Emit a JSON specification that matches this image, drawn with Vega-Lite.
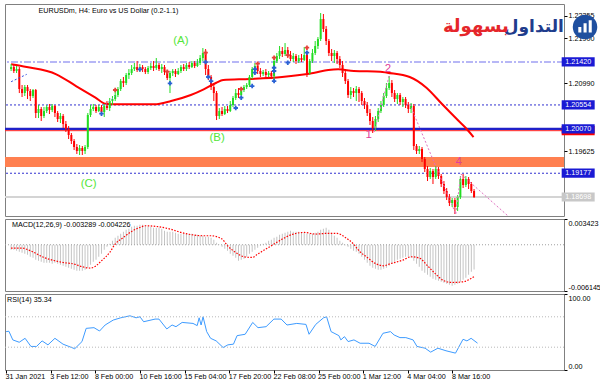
{
"$schema":"https://vega.github.io/schema/vega-lite/v6.json",
"padding":{"left":3,"top":3,"right":0,"bottom":0},
"background":"#ffffff",
"spacing":3,
"bounds":"flush",
"config":{
 "view":{"stroke":"#808080","strokeWidth":1},
 "axis":{"labelFont":"Liberation Sans","labelFontSize":7.2,"labelColor":"#000000","tickColor":"#000000","tickSize":3,"domain":false,"grid":false,"labelOverlap":false,"labelPadding":1},
 "text":{"font":"Liberation Sans"}
},
"datasets":{
"bars":[
{"i":0,"o":1.21278,"h":1.21379,"l":1.21238,"c":1.21318,"m":-0.000665},
{"i":1,"o":1.21318,"h":1.21359,"l":1.21198,"c":1.21238,"m":-0.000665},
{"i":2,"o":1.21238,"h":1.21339,"l":1.21198,"c":1.21278,"m":-0.000798},
{"i":3,"o":1.21278,"h":1.21318,"l":1.20794,"c":1.20875,"m":-0.000931},
{"i":4,"o":1.20875,"h":1.20956,"l":1.20714,"c":1.20794,"m":-0.001064},
{"i":5,"o":1.20794,"h":1.20956,"l":1.20734,"c":1.20915,"m":-0.001197},
{"i":6,"o":1.20915,"h":1.20956,"l":1.20673,"c":1.20835,"m":-0.00133},
{"i":7,"o":1.20835,"h":1.20875,"l":1.20633,"c":1.20734,"m":-0.001596},
{"i":8,"o":1.20734,"h":1.20875,"l":1.20694,"c":1.20855,"m":-0.001729},
{"i":9,"o":1.20855,"h":1.20875,"l":1.2029,"c":1.20391,"m":-0.001995},
{"i":10,"o":1.20391,"h":1.20552,"l":1.2029,"c":1.20472,"m":-0.002128},
{"i":11,"o":1.20472,"h":1.20512,"l":1.2023,"c":1.20331,"m":-0.002261},
{"i":12,"o":1.20331,"h":1.20512,"l":1.2029,"c":1.20431,"m":-0.002394},
{"i":13,"o":1.20431,"h":1.20552,"l":1.20391,"c":1.20512,"m":-0.002394},
{"i":14,"o":1.20512,"h":1.20573,"l":1.20371,"c":1.20452,"m":-0.002394},
{"i":15,"o":1.20452,"h":1.20573,"l":1.20411,"c":1.20532,"m":-0.002527},
{"i":16,"o":1.20532,"h":1.20552,"l":1.2031,"c":1.20391,"m":-0.002394},
{"i":17,"o":1.20391,"h":1.20431,"l":1.2021,"c":1.2027,"m":-0.002527},
{"i":18,"o":1.2027,"h":1.20391,"l":1.20189,"c":1.20331,"m":-0.00266},
{"i":19,"o":1.20331,"h":1.20371,"l":1.20089,"c":1.20169,"m":-0.002793},
{"i":20,"o":1.20169,"h":1.2023,"l":1.20008,"c":1.20068,"m":-0.002926},
{"i":21,"o":1.20068,"h":1.20129,"l":1.19867,"c":1.19948,"m":-0.003059},
{"i":22,"o":1.19948,"h":1.19988,"l":1.19766,"c":1.19827,"m":-0.003192},
{"i":23,"o":1.19827,"h":1.19867,"l":1.19645,"c":1.19706,"m":-0.003325},
{"i":24,"o":1.19706,"h":1.19766,"l":1.19565,"c":1.19625,"m":-0.003458},
{"i":25,"o":1.19625,"h":1.19746,"l":1.19545,"c":1.19686,"m":-0.003458},
{"i":26,"o":1.19686,"h":1.19726,"l":1.19545,"c":1.19625,"m":-0.003458},
{"i":27,"o":1.19625,"h":1.19746,"l":1.19565,"c":1.19706,"m":-0.003325},
{"i":28,"o":1.19706,"h":1.20391,"l":1.19665,"c":1.20351,"m":-0.003059},
{"i":29,"o":1.20351,"h":1.20552,"l":1.2031,"c":1.20472,"m":-0.00266},
{"i":30,"o":1.20472,"h":1.20573,"l":1.20431,"c":1.20512,"m":-0.002261},
{"i":31,"o":1.20512,"h":1.20552,"l":1.20391,"c":1.20431,"m":-0.001995},
{"i":32,"o":1.20431,"h":1.20552,"l":1.20411,"c":1.20512,"m":-0.001596},
{"i":33,"o":1.20512,"h":1.20552,"l":1.20351,"c":1.20411,"m":-0.001197},
{"i":34,"o":1.20411,"h":1.20573,"l":1.2031,"c":1.20532,"m":-0.000665},
{"i":35,"o":1.20532,"h":1.20633,"l":1.20452,"c":1.20492,"m":-0.000266},
{"i":36,"o":1.20492,"h":1.20694,"l":1.20431,"c":1.20633,"m":0.000133},
{"i":37,"o":1.20633,"h":1.20734,"l":1.20552,"c":1.20673,"m":0.000532},
{"i":38,"o":1.20673,"h":1.20875,"l":1.20633,"c":1.20754,"m":0.000931},
{"i":39,"o":1.20754,"h":1.20915,"l":1.20714,"c":1.20875,"m":0.001197},
{"i":40,"o":1.20875,"h":1.21077,"l":1.20835,"c":1.21036,"m":0.001463},
{"i":41,"o":1.21036,"h":1.21117,"l":1.20915,"c":1.20996,"m":0.001729},
{"i":42,"o":1.20996,"h":1.21198,"l":1.20956,"c":1.21157,"m":0.001995},
{"i":43,"o":1.21157,"h":1.21278,"l":1.21077,"c":1.21198,"m":0.002128},
{"i":44,"o":1.21198,"h":1.21359,"l":1.21157,"c":1.21278,"m":0.002394},
{"i":45,"o":1.21278,"h":1.21399,"l":1.21238,"c":1.21318,"m":0.002527},
{"i":46,"o":1.21318,"h":1.21439,"l":1.21218,"c":1.21258,"m":0.002527},
{"i":47,"o":1.21258,"h":1.21379,"l":1.21218,"c":1.21318,"m":0.00266},
{"i":48,"o":1.21318,"h":1.21359,"l":1.21218,"c":1.21278,"m":0.00266},
{"i":49,"o":1.21278,"h":1.21318,"l":1.21177,"c":1.21218,"m":0.002527},
{"i":50,"o":1.21218,"h":1.21339,"l":1.21177,"c":1.21298,"m":0.002394},
{"i":51,"o":1.21298,"h":1.21399,"l":1.21258,"c":1.21339,"m":0.002394},
{"i":52,"o":1.21339,"h":1.21439,"l":1.21238,"c":1.21298,"m":0.002261},
{"i":53,"o":1.21298,"h":1.215,"l":1.21258,"c":1.21359,"m":0.002261},
{"i":54,"o":1.21359,"h":1.21399,"l":1.21238,"c":1.21278,"m":0.002261},
{"i":55,"o":1.21278,"h":1.21379,"l":1.21198,"c":1.21318,"m":0.002128},
{"i":56,"o":1.21318,"h":1.21359,"l":1.21157,"c":1.21218,"m":0.001862},
{"i":57,"o":1.21218,"h":1.21258,"l":1.21056,"c":1.21097,"m":0.001729},
{"i":58,"o":1.21097,"h":1.21238,"l":1.20794,"c":1.21198,"m":0.001729},
{"i":59,"o":1.21198,"h":1.21278,"l":1.21137,"c":1.21238,"m":0.001729},
{"i":60,"o":1.21238,"h":1.21278,"l":1.21117,"c":1.21177,"m":0.001596},
{"i":61,"o":1.21177,"h":1.21298,"l":1.21157,"c":1.21238,"m":0.001463},
{"i":62,"o":1.21238,"h":1.21359,"l":1.21198,"c":1.21318,"m":0.001463},
{"i":63,"o":1.21318,"h":1.21379,"l":1.21238,"c":1.21278,"m":0.001463},
{"i":64,"o":1.21278,"h":1.21399,"l":1.21238,"c":1.21359,"m":0.001463},
{"i":65,"o":1.21359,"h":1.21419,"l":1.21278,"c":1.21318,"m":0.001463},
{"i":66,"o":1.21318,"h":1.21439,"l":1.21298,"c":1.21399,"m":0.001463},
{"i":67,"o":1.21399,"h":1.21439,"l":1.21298,"c":1.21339,"m":0.00133},
{"i":68,"o":1.21339,"h":1.2148,"l":1.21318,"c":1.21399,"m":0.00133},
{"i":69,"o":1.21399,"h":1.2156,"l":1.21359,"c":1.215,"m":0.001197},
{"i":70,"o":1.215,"h":1.21701,"l":1.21439,"c":1.21601,"m":0.001197},
{"i":71,"o":1.21601,"h":1.21681,"l":1.21157,"c":1.21278,"m":0.001064},
{"i":72,"o":1.21278,"h":1.21359,"l":1.21056,"c":1.21117,"m":0.001064},
{"i":73,"o":1.21117,"h":1.21157,"l":1.20855,"c":1.20915,"m":0.000931},
{"i":74,"o":1.20915,"h":1.20996,"l":1.20633,"c":1.20794,"m":0.000665},
{"i":75,"o":1.20794,"h":1.20835,"l":1.2025,"c":1.20331,"m":0.000266},
{"i":76,"o":1.20331,"h":1.20492,"l":1.2027,"c":1.20431,"m":0.00005},
{"i":77,"o":1.20431,"h":1.20512,"l":1.20331,"c":1.20371,"m":-0.000266},
{"i":78,"o":1.20371,"h":1.20532,"l":1.20351,"c":1.20472,"m":-0.000532},
{"i":79,"o":1.20472,"h":1.20532,"l":1.20391,"c":1.20431,"m":-0.000798},
{"i":80,"o":1.20431,"h":1.20633,"l":1.20411,"c":1.20552,"m":-0.001197},
{"i":81,"o":1.20552,"h":1.20734,"l":1.20512,"c":1.20694,"m":-0.001463},
{"i":82,"o":1.20694,"h":1.20875,"l":1.20653,"c":1.20794,"m":-0.001729},
{"i":83,"o":1.20794,"h":1.20895,"l":1.20694,"c":1.20754,"m":-0.002128},
{"i":84,"o":1.20754,"h":1.20915,"l":1.20714,"c":1.20855,"m":-0.001995},
{"i":85,"o":1.20855,"h":1.20956,"l":1.20814,"c":1.20915,"m":-0.001862},
{"i":86,"o":1.20915,"h":1.20996,"l":1.20875,"c":1.20956,"m":-0.001596},
{"i":87,"o":1.20956,"h":1.21157,"l":1.20915,"c":1.21117,"m":-0.001197},
{"i":88,"o":1.21117,"h":1.21318,"l":1.21077,"c":1.21278,"m":-0.000931},
{"i":89,"o":1.21278,"h":1.21399,"l":1.21238,"c":1.21339,"m":-0.000665},
{"i":90,"o":1.21339,"h":1.21379,"l":1.21177,"c":1.21238,"m":-0.000399},
{"i":91,"o":1.21238,"h":1.21298,"l":1.21117,"c":1.21177,"m":-0.000133},
{"i":92,"o":1.21177,"h":1.21258,"l":1.21137,"c":1.21218,"m":0.000133},
{"i":93,"o":1.21218,"h":1.21278,"l":1.21097,"c":1.21157,"m":0.000266},
{"i":94,"o":1.21157,"h":1.21238,"l":1.21117,"c":1.21198,"m":0.000532},
{"i":95,"o":1.21198,"h":1.21238,"l":1.21077,"c":1.21137,"m":0.000665},
{"i":96,"o":1.21137,"h":1.2152,"l":1.21056,"c":1.21439,"m":0.000931},
{"i":97,"o":1.21439,"h":1.21601,"l":1.21399,"c":1.2154,"m":0.001064},
{"i":98,"o":1.2154,"h":1.21742,"l":1.2148,"c":1.21641,"m":0.00133},
{"i":99,"o":1.21641,"h":1.21722,"l":1.2152,"c":1.21581,"m":0.001463},
{"i":100,"o":1.21581,"h":1.21802,"l":1.2154,"c":1.21661,"m":0.001596},
{"i":101,"o":1.21661,"h":1.21722,"l":1.215,"c":1.2156,"m":0.001729},
{"i":102,"o":1.2156,"h":1.21641,"l":1.21439,"c":1.2148,"m":0.001862},
{"i":103,"o":1.2148,"h":1.21601,"l":1.21419,"c":1.2154,"m":0.001729},
{"i":104,"o":1.2154,"h":1.21581,"l":1.21379,"c":1.21439,"m":0.001729},
{"i":105,"o":1.21439,"h":1.2156,"l":1.21399,"c":1.215,"m":0.001729},
{"i":106,"o":1.215,"h":1.21581,"l":1.21419,"c":1.2146,"m":0.001596},
{"i":107,"o":1.2146,"h":1.21722,"l":1.21439,"c":1.2156,"m":0.001596},
{"i":108,"o":1.2156,"h":1.21641,"l":1.21117,"c":1.21198,"m":0.001463},
{"i":109,"o":1.21198,"h":1.2148,"l":1.21157,"c":1.21439,"m":0.001463},
{"i":110,"o":1.21439,"h":1.21681,"l":1.21399,"c":1.21601,"m":0.001463},
{"i":111,"o":1.21601,"h":1.21843,"l":1.2156,"c":1.21742,"m":0.001596},
{"i":112,"o":1.21742,"h":1.21923,"l":1.21681,"c":1.21883,"m":0.001729},
{"i":113,"o":1.21883,"h":1.22407,"l":1.21843,"c":1.22286,"m":0.001995},
{"i":114,"o":1.22286,"h":1.22387,"l":1.22024,"c":1.22085,"m":0.002128},
{"i":115,"o":1.22085,"h":1.22145,"l":1.21762,"c":1.21843,"m":0.002261},
{"i":116,"o":1.21843,"h":1.21883,"l":1.2154,"c":1.21601,"m":0.001995},
{"i":117,"o":1.21601,"h":1.21681,"l":1.21439,"c":1.2154,"m":0.001596},
{"i":118,"o":1.2154,"h":1.21661,"l":1.21399,"c":1.21601,"m":0.001197},
{"i":119,"o":1.21601,"h":1.21641,"l":1.21379,"c":1.2148,"m":0.000931},
{"i":120,"o":1.2148,"h":1.2154,"l":1.21298,"c":1.21359,"m":0.000532},
{"i":121,"o":1.21359,"h":1.21439,"l":1.21117,"c":1.21198,"m":0.000266},
{"i":122,"o":1.21198,"h":1.21238,"l":1.20976,"c":1.21036,"m":-0.00005},
{"i":123,"o":1.21036,"h":1.21077,"l":1.20694,"c":1.20754,"m":-0.000266},
{"i":124,"o":1.20754,"h":1.20915,"l":1.20673,"c":1.20835,"m":-0.000532},
{"i":125,"o":1.20835,"h":1.20895,"l":1.20714,"c":1.20794,"m":-0.000798},
{"i":126,"o":1.20794,"h":1.20935,"l":1.20633,"c":1.20875,"m":-0.000931},
{"i":127,"o":1.20875,"h":1.20915,"l":1.20613,"c":1.20794,"m":-0.001197},
{"i":128,"o":1.20794,"h":1.20835,"l":1.20552,"c":1.20633,"m":-0.001596},
{"i":129,"o":1.20633,"h":1.20694,"l":1.20472,"c":1.20552,"m":-0.001995},
{"i":130,"o":1.20552,"h":1.20613,"l":1.20331,"c":1.20391,"m":-0.002394},
{"i":131,"o":1.20391,"h":1.20472,"l":1.20149,"c":1.2023,"m":-0.002793},
{"i":132,"o":1.2023,"h":1.2031,"l":1.19988,"c":1.20089,"m":-0.003059},
{"i":133,"o":1.20089,"h":1.20331,"l":1.20028,"c":1.2027,"m":-0.003192},
{"i":134,"o":1.2027,"h":1.20492,"l":1.2021,"c":1.20431,"m":-0.003325},
{"i":135,"o":1.20431,"h":1.20633,"l":1.20391,"c":1.20552,"m":-0.003325},
{"i":136,"o":1.20552,"h":1.20794,"l":1.20512,"c":1.20734,"m":-0.003192},
{"i":137,"o":1.20734,"h":1.20996,"l":1.20694,"c":1.20895,"m":-0.003059},
{"i":138,"o":1.20895,"h":1.21137,"l":1.20855,"c":1.20996,"m":-0.002793},
{"i":139,"o":1.20996,"h":1.21056,"l":1.20714,"c":1.20794,"m":-0.002527},
{"i":140,"o":1.20794,"h":1.20855,"l":1.20613,"c":1.20673,"m":-0.002261},
{"i":141,"o":1.20673,"h":1.20794,"l":1.20573,"c":1.20754,"m":-0.001995},
{"i":142,"o":1.20754,"h":1.20794,"l":1.20552,"c":1.20613,"m":-0.001862},
{"i":143,"o":1.20613,"h":1.20714,"l":1.20512,"c":1.20673,"m":-0.001729},
{"i":144,"o":1.20673,"h":1.20714,"l":1.20492,"c":1.20552,"m":-0.001596},
{"i":145,"o":1.20552,"h":1.20613,"l":1.20391,"c":1.20472,"m":-0.001596},
{"i":146,"o":1.20472,"h":1.20593,"l":1.20391,"c":1.20532,"m":-0.001729},
{"i":147,"o":1.20532,"h":1.20573,"l":1.19645,"c":1.19726,"m":-0.002128},
{"i":148,"o":1.19726,"h":1.19766,"l":1.19565,"c":1.19625,"m":-0.002527},
{"i":149,"o":1.19625,"h":1.19726,"l":1.19565,"c":1.19665,"m":-0.002926},
{"i":150,"o":1.19665,"h":1.19706,"l":1.19403,"c":1.19464,"m":-0.003458},
{"i":151,"o":1.19464,"h":1.19504,"l":1.19202,"c":1.19262,"m":-0.003724},
{"i":152,"o":1.19262,"h":1.19323,"l":1.1902,"c":1.19101,"m":-0.00399},
{"i":153,"o":1.19101,"h":1.19282,"l":1.19061,"c":1.19222,"m":-0.004256},
{"i":154,"o":1.19222,"h":1.19262,"l":1.1896,"c":1.19101,"m":-0.004522},
{"i":155,"o":1.19101,"h":1.19323,"l":1.19061,"c":1.19262,"m":-0.004655},
{"i":156,"o":1.19262,"h":1.19302,"l":1.19061,"c":1.19121,"m":-0.004788},
{"i":157,"o":1.19121,"h":1.19161,"l":1.18899,"c":1.1896,"m":-0.004921},
{"i":158,"o":1.1896,"h":1.1902,"l":1.18758,"c":1.18819,"m":-0.005054},
{"i":159,"o":1.18819,"h":1.18879,"l":1.18637,"c":1.18698,"m":-0.005187},
{"i":160,"o":1.18698,"h":1.18758,"l":1.18516,"c":1.18577,"m":-0.00532},
{"i":161,"o":1.18577,"h":1.18678,"l":1.18496,"c":1.18637,"m":-0.005453},
{"i":162,"o":1.18637,"h":1.18678,"l":1.18355,"c":1.18496,"m":-0.00532},
{"i":163,"o":1.18496,"h":1.18738,"l":1.18415,"c":1.18698,"m":-0.005187},
{"i":164,"o":1.18698,"h":1.19121,"l":1.18657,"c":1.19061,"m":-0.004921},
{"i":165,"o":1.19061,"h":1.19161,"l":1.18879,"c":1.1894,"m":-0.004655},
{"i":166,"o":1.1894,"h":1.19121,"l":1.18899,"c":1.19061,"m":-0.004389},
{"i":167,"o":1.19061,"h":1.19101,"l":1.18859,"c":1.1896,"m":-0.00399},
{"i":168,"o":1.1896,"h":1.19,"l":1.18778,"c":1.18819,"m":-0.00359},
{"i":169,"o":1.18819,"h":1.18859,"l":1.18678,"c":1.18698,"m":-0.003289}
],
"ma":[
{"i":0,"p":1.21373},{"i":5.7,"p":1.21318},{"i":16.5,"p":1.21172},{"i":23.7,"p":1.20935},{"i":30.8,"p":1.207},{"i":34.4,"p":1.20579},{"i":38,"p":1.20567},{"i":52.3,"p":1.20567},{"i":58.4,"p":1.20633},{"i":65.6,"p":1.20754},{"i":70.3,"p":1.20869},{"i":74.9,"p":1.21002},{"i":77.4,"p":1.21056},{"i":87.1,"p":1.21077},{"i":98.9,"p":1.21117},{"i":110.8,"p":1.21203},{"i":115.8,"p":1.21258},{"i":119.4,"p":1.21272},{"i":125.1,"p":1.21238},{"i":134.8,"p":1.21224},{"i":137.3,"p":1.21203},{"i":145.5,"p":1.21117},{"i":151.6,"p":1.20901},{"i":157.3,"p":1.20572},{"i":163.4,"p":1.2023},{"i":165.9,"p":1.20095},{"i":168.8,"p":1.19907}
],
"sig":[
{"i":0,"v":-0.000439},{"i":4,"v":-0.000439},{"i":7,"v":-0.000798},{"i":12,"v":-0.001689},{"i":16,"v":-0.002128},{"i":19,"v":-0.002354},{"i":23,"v":-0.002567},{"i":26,"v":-0.002926},{"i":29,"v":-0.003099},{"i":31,"v":-0.002793},{"i":33,"v":-0.002128},{"i":36,"v":-0.001024},{"i":38,"v":0.000093},{"i":41,"v":0.000971},{"i":44,"v":0.001769},{"i":47,"v":0.002301},{"i":49,"v":0.002527},{"i":53,"v":0.002434},{"i":58,"v":0.002088},{"i":62,"v":0.001636},{"i":66,"v":0.00133},{"i":70,"v":0.001197},{"i":73,"v":0.001197},{"i":77,"v":0.000758},{"i":79,"v":-0.000133},{"i":82,"v":-0.001024},{"i":85,"v":-0.001596},{"i":88,"v":-0.001689},{"i":90,"v":-0.001237},{"i":93,"v":-0.000572},{"i":96,"v":0.000093},{"i":99,"v":0.000758},{"i":103,"v":0.001423},{"i":107,"v":0.001636},{"i":111,"v":0.001423},{"i":115,"v":0.001503},{"i":119,"v":0.001503},{"i":122,"v":0.000971},{"i":125,"v":0.000093},{"i":127,"v":-0.000798},{"i":130,"v":-0.001689},{"i":133,"v":-0.002487},{"i":136,"v":-0.002793},{"i":138,"v":-0.002567},{"i":143,"v":-0.002035},{"i":146,"v":-0.001596},{"i":149,"v":-0.001769},{"i":152,"v":-0.002793},{"i":155,"v":-0.003897},{"i":158,"v":-0.004788},{"i":161,"v":-0.005014},{"i":165,"v":-0.004921},{"i":169,"v":-0.004226}
],
"rsi":[
{"i":0,"r":50.5},{"i":1,"r":51},{"i":2.4,"r":39.6},{"i":4.7,"r":36.5},{"i":6.8,"r":41.7},{"i":8.9,"r":31},{"i":10.9,"r":31},{"i":12.9,"r":38.3},{"i":15,"r":33.1},{"i":17.5,"r":41.7},{"i":20.4,"r":34},{"i":24.6,"r":28},{"i":27.2,"r":37.4},{"i":28.7,"r":54.8},{"i":31.5,"r":55.7},{"i":33.5,"r":51.3},{"i":35.5,"r":59.2},{"i":38.4,"r":65.7},{"i":41.1,"r":68.7},{"i":44.4,"r":71.3},{"i":46.6,"r":68.7},{"i":48,"r":70},{"i":49.3,"r":63.5},{"i":53.4,"r":67},{"i":54.8,"r":67},{"i":57.6,"r":54},{"i":59.5,"r":59.2},{"i":60.9,"r":57},{"i":63.1,"r":62.6},{"i":67,"r":61.3},{"i":68.5,"r":58.4},{"i":69.2,"r":68.7},{"i":69.9,"r":59.2},{"i":70.6,"r":70},{"i":71.9,"r":50.5},{"i":73.3,"r":41.7},{"i":75.3,"r":38.3},{"i":77.8,"r":29.6},{"i":79.5,"r":33.1},{"i":81.5,"r":34},{"i":82.8,"r":45.2},{"i":85.7,"r":47},{"i":88.4,"r":62.6},{"i":90.3,"r":55.7},{"i":93.2,"r":57},{"i":96,"r":67},{"i":98.6,"r":67},{"i":100.7,"r":59.2},{"i":104.2,"r":61.3},{"i":107.5,"r":60},{"i":108.6,"r":47},{"i":111,"r":60},{"i":113.8,"r":68.7},{"i":114.9,"r":70},{"i":116.5,"r":50.5},{"i":119.3,"r":45.2},{"i":120,"r":39.6},{"i":121.3,"r":43.9},{"i":122.6,"r":37.4},{"i":124.7,"r":39.6},{"i":126.9,"r":35.2},{"i":130.1,"r":35.2},{"i":132.3,"r":31},{"i":135.1,"r":48.3},{"i":137.8,"r":50.5},{"i":139.1,"r":46.1},{"i":141.2,"r":42.6},{"i":143.3,"r":42.6},{"i":145.9,"r":39.6},{"i":147.3,"r":31},{"i":150.2,"r":28.7},{"i":152.2,"r":23.5},{"i":154.8,"r":28.7},{"i":157.7,"r":25.3},{"i":161.1,"r":22.2},{"i":163.8,"r":40.4},{"i":165.2,"r":38.3},{"i":166.7,"r":41.7},{"i":169,"r":35.34}
],
"fr":[
{"i":38,"p":1.20855,"k":"u"},{"i":57,"p":1.21224,"k":"u"},{"i":71,"p":1.21607,"k":"u"},{"i":84,"p":1.20875,"k":"u"},{"i":90,"p":1.21385,"k":"u"},{"i":96,"p":1.21506,"k":"u"},{"i":101,"p":1.2156,"k":"u"},{"i":108,"p":1.21708,"k":"u"},
{"i":33,"p":1.20377,"k":"d"},{"i":47,"p":1.21272,"k":"d"},{"i":58,"p":1.2099,"k":"d"},{"i":71,"p":1.21419,"k":"d"},{"i":72,"p":1.21117,"k":"d"},{"i":73,"p":1.21036,"k":"d"},{"i":82,"p":1.20492,"k":"d"},{"i":84,"p":1.207,"k":"d"},{"i":88,"p":1.20935,"k":"d"},{"i":89,"p":1.21278,"k":"d"},{"i":89,"p":1.21204,"k":"d"},{"i":96,"p":1.21304,"k":"d"},{"i":96,"p":1.21238,"k":"d"},{"i":96,"p":1.21036,"k":"d"},{"i":101,"p":1.21405,"k":"d"},{"i":108,"p":1.21607,"k":"d"}
],
"segs":[
{"i1":132.5,"p1":1.20008,"i2":138,"p2":1.21137,"k":"p"},
{"i1":145.5,"p1":1.20573,"i2":162.3,"p2":1.18355,"k":"p"},
{"i1":162.3,"p1":1.18355,"i2":164.2,"p2":1.19161,"k":"p"},
{"i1":164.2,"p1":1.19161,"i2":181.4,"p2":1.18315,"k":"p"},
{"i1":0,"p1":1.21022,"i2":5.7,"p2":1.21171,"k":"b"},
{"i1":34.4,"p1":1.20553,"i2":38,"p2":1.20734,"k":"l"}
],
"notes":[
{"i":62,"p":1.21843,"t":"(A)","k":"g"},{"i":75.2,"p":1.19887,"t":"(B)","k":"g"},{"i":28.3,"p":1.1896,"t":"(C)","k":"g"},
{"i":130.5,"p":1.19948,"t":"1","k":"w"},{"i":137.6,"p":1.21278,"t":"2","k":"w"},{"i":163.4,"p":1.19403,"t":"4","k":"w"}
],
"tags":[
{"p":1.2142,"t":"1.21420","k":"b"},{"p":1.20554,"t":"1.20554","k":"b"},{"p":1.20035,"t":"","k":"r"},{"p":1.2007,"t":"1.20070","k":"b"},{"p":1.19177,"t":"1.19177","k":"b"},{"p":1.18698,"t":"1.18698","k":"g"}
]
},
"vconcat":[
{"width":559,"height":212,"layer":[
 {"data":{"values":[{"p1":1.19504,"p2":1.19303}]},"mark":{"type":"rect","color":"#ff8050"},
  "encoding":{"y":{"field":"p1","type":"quantitative","scale":{"domain":[1.18315,1.22589],"nice":false,"zero":false},"axis":{"orient":"right","title":null,"values":[1.22355,1.219,1.2099,1.19625],"format":".5f"}},"y2":{"field":"p2"}}},
 {"data":{"values":[{"p":1.2142}]},"mark":{"type":"rule","color":"#7070ee","strokeWidth":1.2,"strokeDash":[7,2,2,2]},"encoding":{"y":{"field":"p","type":"quantitative"}}},
 {"data":{"values":[{"p":1.20554},{"p":1.19177}]},"mark":{"type":"rule","color":"#3030d0","strokeWidth":1,"strokeDash":[2,2]},"encoding":{"y":{"field":"p","type":"quantitative"}}},
 {"data":{"values":[{"p":1.20035}]},"mark":{"type":"rule","color":"#ff2020","strokeWidth":1},"encoding":{"y":{"field":"p","type":"quantitative"}}},
 {"data":{"values":[{"p":1.2007}]},"mark":{"type":"rule","color":"#2020c8","strokeWidth":2.2},"encoding":{"y":{"field":"p","type":"quantitative"}}},
 {"data":{"values":[{"p":1.18698}]},"mark":{"type":"rule","color":"#d4d4d4","strokeWidth":2},"encoding":{"y":{"field":"p","type":"quantitative"}}},
 {"data":{"name":"ma"},"mark":{"type":"line","color":"#ff0000","strokeWidth":2,"interpolate":"monotone"},
  "encoding":{"x":{"field":"i","type":"quantitative","scale":{"domain":[-0.4,200],"nice":false,"zero":false},"axis":null},"y":{"field":"p","type":"quantitative"}}},
 {"data":{"name":"bars"},"mark":{"type":"rule","strokeWidth":1},
  "encoding":{"x":{"field":"i","type":"quantitative","axis":null},"y":{"field":"l","type":"quantitative"},"y2":{"field":"h"},
   "color":{"condition":{"test":"datum.c >= datum.o","value":"#22dd22"},"value":"#ff0000"}}},
 {"data":{"name":"bars"},"mark":{"type":"bar","size":2},
  "encoding":{"x":{"field":"i","type":"quantitative","axis":null},"y":{"field":"o","type":"quantitative"},"y2":{"field":"c"},
   "color":{"condition":{"test":"datum.c >= datum.o","value":"#22dd22"},"value":"#ff0000"}}},
 {"data":{"name":"fr"},"mark":{"type":"point","shape":"cross","filled":true,"size":20,"opacity":1},
  "encoding":{"x":{"field":"i","type":"quantitative","axis":null},"y":{"field":"p","type":"quantitative"},
   "fill":{"condition":{"test":"datum.k == 'u'","value":"#e8403a"},"value":"#2a62d4"}}},
 {"data":{"name":"segs"},"mark":{"type":"rule","strokeDash":[2,2],"strokeWidth":1,"clip":true},
  "encoding":{"x":{"field":"i1","type":"quantitative","axis":null},"x2":{"field":"i2"},"y":{"field":"p1","type":"quantitative"},"y2":{"field":"p2"},
   "color":{"condition":[{"test":"datum.k == 'p'","value":"#e070c0"},{"test":"datum.k == 'l'","value":"#8090ff"}],"value":"#3050e0"}}},
 {"data":{"name":"notes"},"mark":{"type":"text","fontSize":11.5,"align":"center","baseline":"middle"},
  "encoding":{"x":{"field":"i","type":"quantitative","axis":null},"y":{"field":"p","type":"quantitative"},"text":{"field":"t"},
   "color":{"condition":{"test":"datum.k == 'g'","value":"#55e63a"},"value":"#e0409a"}}},
 {"data":{"name":"tags"},"mark":{"type":"point","shape":"M-1,-0.28H1V0.28H-1Z","filled":true,"size":1089,"opacity":1,"strokeWidth":0},
  "encoding":{"x":{"datum":207,"type":"quantitative","axis":null},"y":{"field":"p","type":"quantitative"},
   "fill":{"condition":[{"test":"datum.k == 'g'","value":"#c8c8c8"},{"test":"datum.k == 'r'","value":"#ff0000"}],"value":"#1a1ad4"}}},
 {"data":{"name":"tags"},"transform":[{"filter":"datum.k != 'r'"}],"mark":{"type":"text","color":"#ffffff","fontSize":7.2,"align":"center","baseline":"middle"},
  "encoding":{"x":{"datum":207,"type":"quantitative","axis":null},"y":{"field":"p","type":"quantitative"},"text":{"field":"t"}}},
 {"data":{"values":[{"i":201.8,"p":1.22125,"t":"التداول"}]},"mark":{"type":"text","font":"DejaVu Sans","fontWeight":"bold","fontSize":17,"color":"#1f3c8c","align":"right","baseline":"middle"},
  "encoding":{"x":{"field":"i","type":"quantitative","axis":null},"y":{"field":"p","type":"quantitative"},"text":{"field":"t"}}},
 {"data":{"values":[{"i":181.7,"p":1.22125,"t":"بسهولة"}]},"mark":{"type":"text","font":"DejaVu Sans","fontWeight":"bold","fontSize":18,"color":"#e5262a","align":"right","baseline":"middle"},
  "encoding":{"x":{"field":"i","type":"quantitative","axis":null},"y":{"field":"p","type":"quantitative"},"text":{"field":"t"}}},
 {"data":{"values":[{"i":209.5,"p":1.22125}]},"mark":{"type":"point","shape":"circle","filled":true,"opacity":1,"size":600,"color":"#1f4f9f"},
  "encoding":{"x":{"field":"i","type":"quantitative","axis":null},"y":{"field":"p","type":"quantitative"}}},
 {"data":{"values":[{"i":209.5,"p":1.22125}]},"mark":{"type":"point","shape":"M-0.55,0.45V0H-0.3V0.45ZM-0.12,0.45V-0.3H0.13V0.45ZM0.3,0.45V-0.55H0.55V0.45Z","filled":true,"opacity":1,"size":600,"color":"#ffffff","strokeWidth":0},
  "encoding":{"x":{"field":"i","type":"quantitative","axis":null},"y":{"field":"p","type":"quantitative"}}},
 {"data":{"values":[{"i":10,"p":1.22447,"t":"EURUSDm, H4:  Euro vs US Dollar (0.2-1.1)"}]},"mark":{"type":"text","fontSize":7.2,"align":"left","baseline":"middle","color":"#000000"},
  "encoding":{"x":{"field":"i","type":"quantitative","axis":null},"y":{"field":"p","type":"quantitative"},"text":{"field":"t"}}}
]},
{"width":559,"height":72,"layer":[
 {"data":{"name":"bars"},"mark":{"type":"bar","color":"#c4c4c4","size":1},
  "encoding":{"x":{"field":"i","type":"quantitative","scale":{"domain":[-0.4,200],"nice":false,"zero":false},"axis":null},
   "y":{"field":"m","type":"quantitative","scale":{"domain":[-0.006145,0.003423],"nice":false,"zero":false},"axis":{"orient":"right","title":null,"values":[0.003423,0,-0.006145],"format":".6f","labelFlush":true,"labelExpr":"replace(datum.label, '\u2212', '-')"}}}},
 {"data":{"values":[{"m":0}]},"mark":{"type":"rule","color":"#a0a0a0","strokeDash":[1,2]},"encoding":{"y":{"field":"m","type":"quantitative"}}},
 {"data":{"name":"sig"},"mark":{"type":"line","color":"#ff0000","strokeWidth":1.2,"strokeDash":[1.5,1.5],"interpolate":"monotone"},
  "encoding":{"x":{"field":"i","type":"quantitative","axis":null},"y":{"field":"v","type":"quantitative"}}},
 {"data":{"values":[{"i":0.3,"v":0.00266,"t":"MACD(12,26,9) -0.003289 -0.004226"}]},"mark":{"type":"text","fontSize":7.2,"align":"left","baseline":"middle","color":"#000000"},
  "encoding":{"x":{"field":"i","type":"quantitative","axis":null},"y":{"field":"v","type":"quantitative"},"text":{"field":"t"}}}
]},
{"width":559,"height":76,"layer":[
 {"data":{"name":"rsi"},"mark":{"type":"line","color":"#3d9bff","strokeWidth":1},
  "encoding":{"x":{"field":"i","type":"quantitative","scale":{"domain":[-0.4,200],"nice":false,"zero":false},
    "axis":{"orient":"bottom","title":null,"values":[0,16,32,48,64,80,96,112,128,144,160],"labelExpr":"['31 Jan 2021','3 Feb 12:00','8 Feb 00:00','10 Feb 16:00','15 Feb 04:00','17 Feb 20:00','22 Feb 08:00','25 Feb 00:00','1 Mar 12:00','4 Mar 04:00','8 Mar 16:00'][round(datum.value/16)]","labelAlign":"left","labelFlush":false,"labelOffset":-1,"labelPadding":-1}},
   "y":{"field":"r","type":"quantitative","scale":{"domain":[0,100],"nice":false,"zero":false},"axis":{"orient":"right","title":null,"values":[100,70,30,0],"format":".2f","labelFlush":true}}}},
 {"data":{"values":[{"r":70},{"r":30}]},"mark":{"type":"rule","color":"#b8b8b8","strokeDash":[1,2]},"encoding":{"y":{"field":"r","type":"quantitative"}}},
 {"data":{"values":[{"i":0.3,"r":92,"t":"RSI(14) 35.34"}]},"mark":{"type":"text","fontSize":7.2,"align":"left","baseline":"middle","color":"#000000"},
  "encoding":{"x":{"field":"i","type":"quantitative"},"y":{"field":"r","type":"quantitative"},"text":{"field":"t"}}}
]}
]
}
